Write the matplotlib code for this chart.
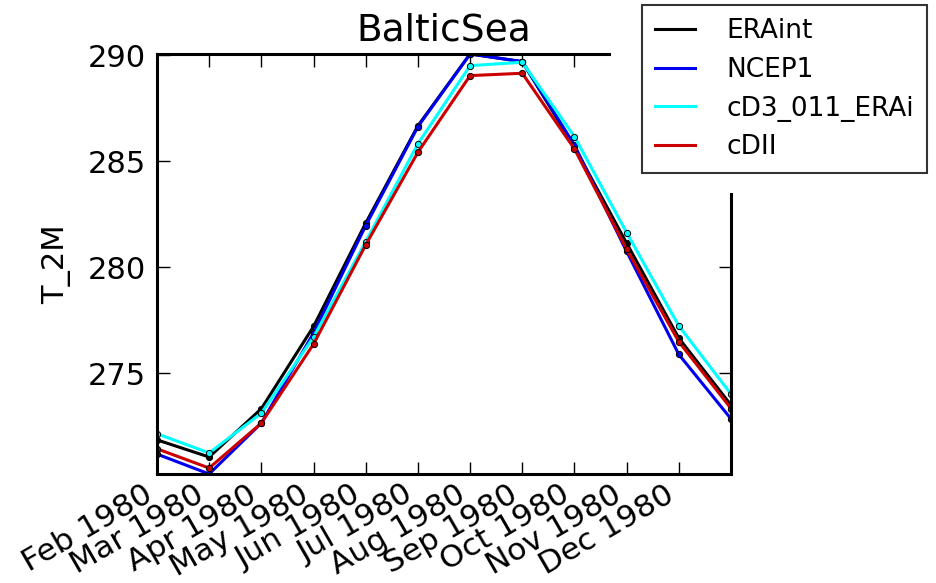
import matplotlib
matplotlib.use("Agg")
import numpy as np
import matplotlib.pyplot as plt
from matplotlib.patches import Rectangle
from matplotlib.lines import Line2D

# monthly means of 2m temperature over the Baltic Sea, 1980
tick_labels = ["Feb 1980", "Mar 1980", "Apr 1980", "May 1980", "Jun 1980", "Jul 1980",
               "Aug 1980", "Sep 1980", "Oct 1980", "Nov 1980", "Dec 1980"]
era_int = [271.85, 271.04, 273.32, 277.20, 282.08, 286.67, 290.06, 289.70, 285.67, 281.13, 276.65, 273.49]
ncep1 = [271.18, 270.24, 272.64, 276.89, 281.96, 286.63, 290.06, 289.70, 285.76, 280.74, 275.88, 272.84]
cd3_011_erai = [272.14, 271.23, 273.11, 276.70, 281.20, 285.82, 289.51, 289.67, 286.16, 281.63, 277.23, 274.01]
cdii = [271.43, 270.52, 272.64, 276.37, 281.05, 285.42, 289.04, 289.15, 285.58, 280.85, 276.48, 273.33]

series = [("ERAint", era_int, "black"),
          ("NCEP1", ncep1, "#0000f0"),
          ("cD3_011_ERAi", cd3_011_erai, "#00ffff"),
          ("cDII", cdii, "#cc0000")]

plt.rcParams['font.family'] = ['DejaVu Sans']

fig = plt.figure(figsize=(9.36, 5.83), dpi=100)
ax = fig.add_axes([0.1677, 0.187, 0.6133, 0.7204])

x = np.arange(len(era_int))
handles = []
for name, vals, col in series:
    ax.plot(x, vals, color=col, lw=2.2, marker='o', ms=4.5,
            mfc=col, mec='black', mew=0.7)
    handles.append(Line2D([], [], color=col, lw=2.2, label=name))

allv = np.concatenate([v for _, v, _ in series])
ax.set_xlim(0, len(era_int) - 1)
ax.set_ylim(allv.min(), allv.max())

ax.set_xticks(np.arange(len(tick_labels)))
ax.set_xticklabels(tick_labels, rotation=30, ha='right')
ax.set_yticks([275, 280, 285, 290])
ax.tick_params(axis='both', direction='in', top=True, right=True, length=9, width=1, labelsize=22, pad=8)
ax.tick_params(axis='x', labelsize=22.5, pad=4)
for sp in ax.spines.values():
    sp.set_linewidth(2.2)

ax.set_ylabel("T_2M", fontsize=22, labelpad=12)
ax.set_title("BalticSea", fontsize=27, pad=10)

# white area behind the legend hides the top-right part of the frame
fig.patches.append(Rectangle((611 / 936, 1 - 193 / 583), 1, 1, transform=fig.transFigure,
                             facecolor='white', edgecolor='none', zorder=5))

leg = fig.legend(handles=handles, loc='upper left', bbox_to_anchor=(642 / 936, 1 - 5 / 583), fontsize=19,
                 frameon=True, fancybox=False, handlelength=1.5, handletextpad=1.2,
                 borderpad=0.5, labelspacing=0.48, borderaxespad=0)
leg.get_frame().set_edgecolor('black')
leg.get_frame().set_linewidth(1.5)
leg.set_zorder(10)

fig.savefig("out.png", dpi=100)
